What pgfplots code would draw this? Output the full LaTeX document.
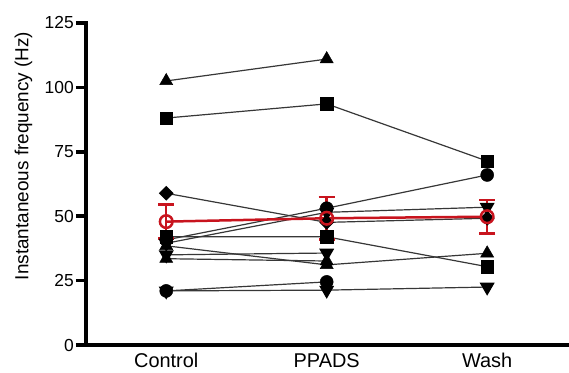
\documentclass[border=0pt]{standalone}
\usepackage{fontspec}
\setmainfont{Liberation Sans}
\usepackage{pgfplots}
\pgfplotsset{compat=1.18}
\definecolor{meanred}{RGB}{200,20,30}
\definecolor{linegray}{RGB}{55,55,55}
\pgfplotsset{
  subj/.style={linegray, line width=1.2bp, mark options={solid, fill=black, draw=black, line width=0.5bp}},
  tri/.style={subj, mark=triangle*, mark size=7.5bp},
  trid/.style={subj, mark=triangle*, mark size=7.5bp, mark options={rotate=180, fill=black, draw=black}},
  sq/.style={subj, mark=square*, mark size=6.3bp},
  dia/.style={subj, mark=square*, mark size=4.6bp, mark options={rotate=45, fill=black, draw=black}},
  circ/.style={subj, mark=*, mark size=6.5bp},
}
\begin{document}
\begin{tikzpicture}
\begin{axis}[
  scale only axis, width=483bp, height=322bp,
  xmin=-0.5, xmax=2.51, ymin=0, ymax=125,
  axis x line=bottom, axis y line=left,
  axis line style={-, line width=4.5bp, line cap=rect},
  tick align=outside,
  xtick={0,1,2}, xticklabels={Control,PPADS,Wash},
  xtick style={draw=none},
  ytick={0,25,50,75,100,125},
  ytick style={line width=3.5bp, black},
  major tick length=10bp,
  /pgf/number format/assume math mode=true,
  yticklabel style={font=\fontsize{17.5}{20}\selectfont, inner sep=2bp},
  xticklabel style={font=\fontsize{20}{24}\selectfont, yshift=5bp},
  ylabel={Instantaneous frequency (Hz)},
  ylabel style={font=\fontsize{19}{22}\selectfont, at={(axis description cs:-0.155,0.587)}, anchor=north},
  clip=false,
]
\coordinate (o) at (rel axis cs:0,0);
% individual subjects
\addplot[tri]  coordinates {(0,102.5) (1,111)};
\addplot[sq]   coordinates {(0,88.1) (1,93.6) (2,71.4)};
\addplot[dia]  coordinates {(0,58.9) (1,47.6) (2,49.2)};
\addplot[circ] coordinates {(0,40.8) (1,53.1) (2,66)};
\addplot[trid] coordinates {(0,39.5) (1,51.5) (2,53.5)};
\addplot[sq]   coordinates {(0,42) (1,42) (2,30.4)};
\addplot[tri]  coordinates {(0,38.5) (1,31.1) (2,35.6)};
\addplot[trid] coordinates {(0,35) (1,35.7)};
\addplot[tri]  coordinates {(0,33.5) (1,32.6)};
\addplot[circ] coordinates {(0,21) (1,24.5)};
\addplot[trid] coordinates {(0,21) (1,21.3) (2,22.5)};
% mean +- SEM
\addplot[meanred, line width=2.5bp, mark=o, mark size=6.3bp,
  mark options={solid, line width=2.5bp, draw=meanred},
  error bars/.cd, y dir=both, y explicit,
  error bar style={line width=2.5bp, meanred},
  error mark options={rotate=90, meanred, line width=2.5bp, mark size=8bp}]
  coordinates {(0,47.9) +- (0,6.6) (1,49.2) +- (0,8.3) (2,49.8) +- (0,6.5)};
\end{axis}
\pgfresetboundingbox
\path ([shift={(-86bp,-28bp)}]o) rectangle ([shift={(483bp,345bp)}]o);
\end{tikzpicture}
\end{document}
